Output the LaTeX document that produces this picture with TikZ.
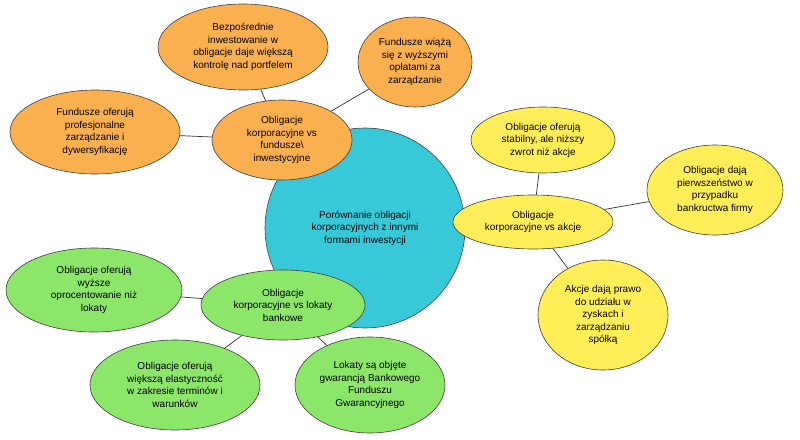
\documentclass[tikz,border=0pt]{standalone}
\usepackage{fontspec}
\setmainfont{Liberation Sans}
\usetikzlibrary{shapes.geometric}
\begin{document}
\begin{tikzpicture}[x=1pt,y=-1pt,
 el/.style={ellipse,draw=black!75,line width=0.6pt,align=center,inner sep=0pt,font=\fontsize{10}{12.5}\selectfont},
 org/.style={el,fill={rgb,255:red,251;green,176;blue,79}},
 yel/.style={el,fill={rgb,255:red,255;green,238;blue,88}},
 grn/.style={el,fill={rgb,255:red,140;green,230;blue,106}},
 ln/.style={draw=black!80,line width=0.7pt}]
\useasboundingbox (0,0) rectangle (800,439);
\node[el,circle,fill={rgb,255:red,56;green,201;blue,217},minimum size=200pt] (c) at (365,228) {Porównanie obligacji\\korporacyjnych z innymi\\formami inwestycji};
% orange
\node[org,minimum width=140pt,minimum height=80pt] (o) at (282,140) {Obligacje\\korporacyjne vs\\fundusze\textbackslash\\inwestycyjne};
\node[org,minimum width=170pt,minimum height=86pt] (o1) at (243,47) {Bezpośrednie\\inwestowanie w\\obligacje daje większą\\kontrolę nad portfelem};
\node[org,minimum width=114pt,minimum height=90pt] (o2) at (415,62) {Fundusze wiążą\\się z wyższymi\\opłatami za\\zarządzanie};
\node[org,minimum width=170pt,minimum height=84pt] (o3) at (95,132) {Fundusze oferują\\profesjonalne\\zarządzanie i\\dywersyfikację};
% yellow
\node[yel,minimum width=160pt,minimum height=54pt] (y) at (533,222) {Obligacje\\korporacyjne vs akcje};
\node[yel,minimum width=144pt,minimum height=66pt] (y1) at (543,140) {Obligacje oferują\\stabilny, ale niższy\\zwrot niż akcje};
\node[yel,minimum width=136pt,minimum height=90pt] (y2) at (715,190) {Obligacje dają\\pierwszeństwo w\\przypadku\\bankructwa firmy};
\node[yel,minimum width=130pt,minimum height=110pt] (y3) at (603,315) {Akcje dają prawo\\do udziału w\\zyskach i\\zarządzaniu\\spółką};
% green
\node[grn,minimum width=164pt,minimum height=70pt] (g) at (283,305) {Obligacje\\korporacyjne vs lokaty\\bankowe};
\node[grn,minimum width=176pt,minimum height=84pt] (g1) at (94,290) {Obligacje oferują\\wyższe\\oprocentowanie niż\\lokaty};
\node[grn,minimum width=170pt,minimum height=90pt] (g2) at (175,385) {Obligacje oferują\\większą elastyczność\\w zakresie terminów i\\warunków};
\node[grn,minimum width=150pt,minimum height=96pt] (g3) at (370,385) {Lokaty są objęte\\gwarancją Bankowego\\Funduszu\\Gwarancyjnego};
% connectors
\draw[ln] (o3) -- (o);
\draw[ln] (o1) -- (o);
\draw[ln] (o2) -- (o);
\draw[ln] (y1) -- (y);
\draw[ln] (y2) -- (y);
\draw[ln] (y3) -- (y);
\draw[ln] (g1) -- (g);
\draw[ln] (g2) -- (g);
\draw[ln] (g3) -- (g);
\end{tikzpicture}
\end{document}
